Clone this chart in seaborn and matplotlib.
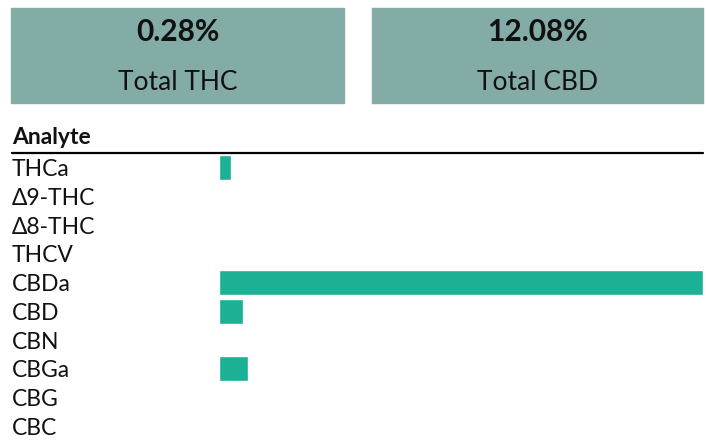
"""
Cannabinoid potency summary: totals cards plus analyte bar list.
"""

import matplotlib.pyplot as plt
import matplotlib.patches as mpatches
import pandas as pd
import seaborn as sns

# values (percent by weight)
analytes = ["THCa", "Δ9-THC", "Δ8-THC", "THCV", "CBDa", "CBD", "CBN", "CBGa", "CBG", "CBC"]
percent = [0.32, 0.0, 0.0, 0.0, 13.03, 0.65, 0.0, 0.78, 0.0, 0.0]
total_labels = ["Total THC", "Total CBD"]
total_values = ["0.28%", "12.08%"]

BAR_COLOR = "#1cb194"
CARD_COLOR = "#82aca5"

sns.set_theme(style="white")
plt.rcParams["font.family"] = ["Lato", "DejaVu Sans"]

W, H = 706, 441
fig = plt.figure(figsize=(W / 100, H / 100), dpi=100)


def fx(px):
    return px / W


def fy(py):
    return 1 - py / H


# summary cards
cards = [(11, 344), (372, 703)]
for (x0, x1), lab, val in zip(cards, total_labels, total_values):
    fig.patches.append(
        mpatches.Rectangle((fx(x0), fy(103)), fx(x1 - x0), (103 - 8) / H,
                           transform=fig.transFigure, color=CARD_COLOR, zorder=0)
    )
    cx = fx((x0 + x1) / 2)
    fig.text(cx, fy(32), val, ha="center", va="center", fontsize=21.5,
             fontweight="bold", color="#111111")
    fig.text(cx, fy(83), lab, ha="center", va="center", fontsize=19,
             color="#111111")

# table header
fig.text(fx(12), fy(138), "Analyte", ha="left", va="center", fontsize=16.5,
         fontweight="bold", color="#111111")
fig.add_artist(plt.Line2D([fx(12), fx(703)], [fy(152.5), fy(152.5)],
                          transform=fig.transFigure, color="black", lw=1.6))

# bar list
df = pd.DataFrame({"analyte": analytes, "percent": percent})
top, bottom = 153.5, 440.5
ax = fig.add_axes([fx(219), fy(bottom), fx(703 - 219), (bottom - top) / H])
sns.barplot(data=df, x="percent", y="analyte", color=BAR_COLOR, width=0.87,
            saturation=1, ax=ax)
ax.set_xlim(0, max(percent))
ax.set_ylim(len(analytes) - 0.5, -0.5)
ax.set_xlabel("")
ax.set_ylabel("")
ax.set_xticks([])
sns.despine(ax=ax, left=True, bottom=True)
ax.tick_params(axis="y", length=0, pad=(219 - 12) * 0.72, labelsize=16.5,
               labelcolor="#111111")
for t in ax.get_yticklabels():
    t.set_ha("left")
ax.patch.set_alpha(0)

fig.savefig("out.png", dpi=100)
